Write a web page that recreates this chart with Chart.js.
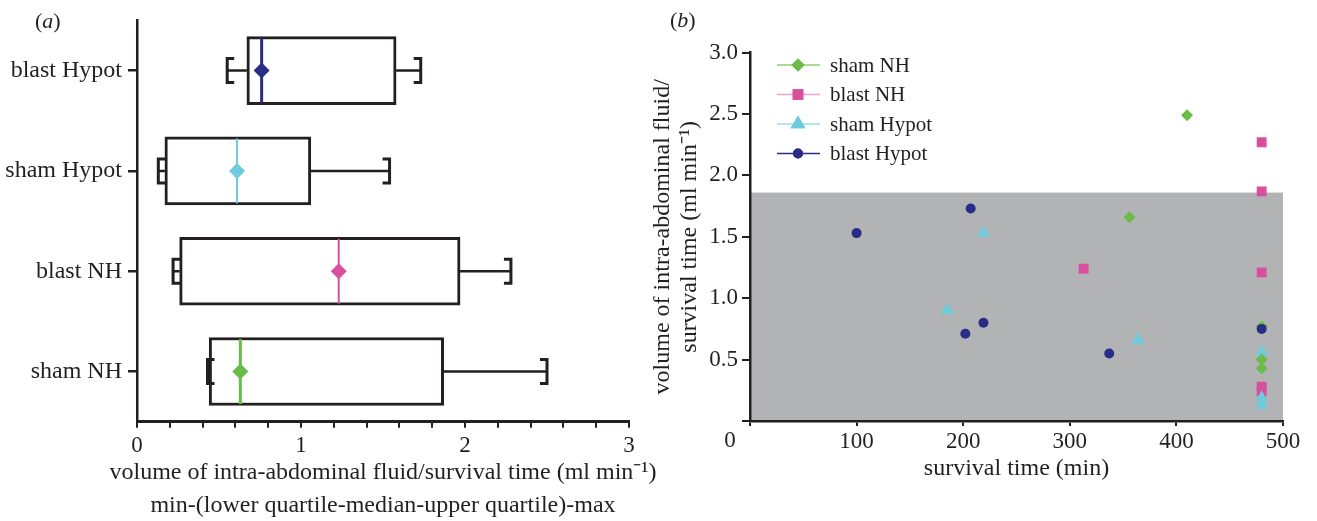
<!DOCTYPE html>
<html>
<head>
<meta charset="utf-8">
<script src="https://cdn.jsdelivr.net/npm/chart.js@4/dist/chart.umd.min.js"></script>
<style>
  html, body { margin: 0; padding: 0; background: #fff; overflow: hidden; }
  #wrap { position: relative; width: 1317px; height: 521px; }
  canvas { position: absolute; top: 0; }
  #boxCanvas { left: 0; }
  #scatterCanvas { left: 650px; }
  .panel { position: absolute; font: 22px 'Liberation Serif', 'Times New Roman', serif; color: #231f20; line-height: 24px; }
</style>
</head>
<body>
<div id="wrap">
  <canvas id="boxCanvas" width="680" height="521"></canvas>
  <canvas id="scatterCanvas" width="667" height="521"></canvas>
  <div class="panel" style="left:35px; top:9px;">(<i>a</i>)</div>
  <div class="panel" style="left:670px; top:8px;">(<i>b</i>)</div>
</div>
<script>
// ---- data: panel (a) box plot ----
const groups = ['blast Hypot', 'sham Hypot', 'blast NH', 'sham NH'];
const boxMin = [0.55, 0.13, 0.22, 0.43];
const boxQ1 = [0.67, 0.17, 0.26, 0.44];
const boxMedian = [0.76, 0.61, 1.23, 0.63];
const boxQ3 = [1.58, 1.06, 1.97, 1.87];
const boxMax = [1.73, 1.54, 2.28, 2.50];
const xTicksA = [0, 1, 2, 3];
const xTitleA = ['volume of intra-abdominal fluid/survival time (ml min\u207B\u00B9)',
                 'min-(lower quartile-median-upper quartile)-max'];

// ---- data: panel (b) scatter ----
const shamNHTime = [410, 356, 480, 480, 480];
const shamNHVol = [2.49, 1.66, 0.77, 0.50, 0.43];
const blastNHTime = [313, 480, 480, 480, 480, 480];
const blastNHVol = [1.24, 2.27, 1.87, 1.21, 0.28, 0.24];
const shamHypotTime = [185, 219, 364, 480, 480, 480];
const shamHypotVol = [0.90, 1.53, 0.66, 0.56, 0.19, 0.13];
const blastHypotTime = [100, 207, 202, 219, 337, 480];
const blastHypotVol = [1.53, 1.73, 0.71, 0.80, 0.55, 0.75];
const shadeMax = 1.86;   // upper edge of grey band
const xTicksB = [0, 100, 200, 300, 400, 500];
const yTicksB = [0, 0.5, 1.0, 1.5, 2.0, 2.5, 3.0];

// ---- styles ----
const ink = '#231f20';
const green = '#69bc45', pink = '#d8509d', cyan = '#6dcbdd', navy = '#2a2d86';
const groupColors = [navy, cyan, pink, green];
const medianWidths = [3, 2, 2, 3];
const serif = "'Liberation Serif', 'Times New Roman', serif";
Chart.defaults.font.family = serif;
Chart.defaults.color = ink;

function toPoints(xs, ys) {
    return xs.map(function(x, i) { return {x: x, y: ys[i]}; });
}

// whiskers + median lines drawn right after the boxes
const whiskerPlugin = {
    id: 'whiskers',
    afterDatasetDraw: function(chart, args) {
        if (args.index !== 1) return;
        const ctx = chart.ctx;
        const xs = chart.scales.x;
        const bars = args.meta.data;
        ctx.save();
        ctx.lineCap = 'butt';
        groups.forEach(function(g, i) {
            const p = bars[i].getProps(['y', 'height'], true);
            const y = p.y, half = p.height / 2;
            const xMin = xs.getPixelForValue(boxMin[i]);
            const xQ1 = xs.getPixelForValue(boxQ1[i]);
            const xQ3 = xs.getPixelForValue(boxQ3[i]);
            const xMax = xs.getPixelForValue(boxMax[i]);
            const cap = 12, serifLen = 7;
            ctx.strokeStyle = ink;
            // whisker lines
            ctx.lineWidth = 2.5;
            ctx.beginPath();
            ctx.moveTo(xMin, y); ctx.lineTo(xQ1, y);
            ctx.moveTo(xQ3, y); ctx.lineTo(xMax, y);
            ctx.stroke();
            // end brackets
            ctx.lineWidth = 3;
            ctx.beginPath();
            ctx.moveTo(xMin + serifLen, y - cap); ctx.lineTo(xMin, y - cap);
            ctx.lineTo(xMin, y + cap); ctx.lineTo(xMin + serifLen, y + cap);
            ctx.moveTo(xMax - serifLen, y - cap); ctx.lineTo(xMax, y - cap);
            ctx.lineTo(xMax, y + cap); ctx.lineTo(xMax - serifLen, y + cap);
            ctx.stroke();
            // median line
            const xMed = xs.getPixelForValue(boxMedian[i]);
            ctx.strokeStyle = groupColors[i];
            ctx.lineWidth = medianWidths[i];
            ctx.beginPath();
            ctx.moveTo(xMed, y - half + 1.5); ctx.lineTo(xMed, y + half - 1.5);
            ctx.stroke();
        });
        ctx.restore();
    },
    // x title drawn by hand so the long first line is not squeezed to the axis width
    afterDraw: function(chart) {
        const ctx = chart.ctx, area = chart.chartArea;
        const cx = (area.left + area.right) / 2;
        ctx.save();
        ctx.fillStyle = ink;
        ctx.font = '24px ' + serif;
        ctx.textAlign = 'center';
        ctx.textBaseline = 'middle';
        ctx.fillText(xTitleA[0], cx, area.bottom + 51);
        ctx.fillText(xTitleA[1], cx, area.bottom + 84);
        ctx.restore();
    }
};

new Chart(document.getElementById('boxCanvas'), {
    type: 'bar',
    data: {
        labels: groups,
        datasets: [
            {
                type: 'line',
                label: 'median',
                data: boxMedian,
                showLine: false,
                pointStyle: 'rectRot',
                pointRadius: 8,
                pointBackgroundColor: groupColors,
                pointBorderWidth: 0,
                order: 0
            },
            {
                label: 'box',
                data: groups.map(function(g, i) { return [boxQ1[i], boxQ3[i]]; }),
                backgroundColor: '#ffffff',
                borderColor: ink,
                borderWidth: 3,
                borderSkipped: false,
                barThickness: 68,
                order: 1
            }
        ]
    },
    options: {
        indexAxis: 'y',
        responsive: false,
        animation: false,
        layout: { padding: { top: 13.7, right: 51, left: 0, bottom: 0 } },
        plugins: { legend: { display: false }, tooltip: { enabled: false } },
        scales: {
            y: {
                type: 'category',
                offset: true,
                afterFit: function(s) { s.width = 137; },
                grid: { display: true, drawOnChartArea: false, offset: false, tickLength: 9, color: ink, lineWidth: 2.5 },
                border: { display: true, color: ink, width: 2.5 },
                ticks: { font: { size: 24 }, padding: 6, color: ink }
            },
            x: {
                type: 'linear',
                min: 0,
                max: 3,
                afterFit: function(s) { s.height = 99.3; },
                grid: { display: true, drawOnChartArea: false, tickLength: 6, color: ink, lineWidth: 2 },
                border: { display: true, color: ink, width: 3 },
                ticks: {
                    stepSize: 0.2,
                    autoSkip: false,
                    maxRotation: 0,
                    padding: 4,
                    font: { size: 23 },
                    color: ink,
                    callback: function(v) {
                        const r = Math.round(v);
                        return (Math.abs(v - r) < 1e-6 && xTicksA.indexOf(r) >= 0) ? String(r) : '';
                    }
                },
                title: { display: false }
            }
        }
    },
    plugins: [whiskerPlugin]
});

// ---- panel (b) ----
const seriesB = [
    { label: 'sham NH', pts: toPoints(shamNHTime, shamNHVol), color: green, line: '#8fd06f', style: 'rectRot', r: 6, lr: 6.5, order: 1 },
    { label: 'blast NH', pts: toPoints(blastNHTime, blastNHVol), color: pink, line: '#eda3ca', style: 'rect', r: 7, lr: 7.5, order: 3 },
    { label: 'sham Hypot', pts: toPoints(shamHypotTime, shamHypotVol), color: cyan, line: '#9bdbe8', style: 'triangle', r: 7.5, lr: 8.5, order: 2 },
    { label: 'blast Hypot', pts: toPoints(blastHypotTime, blastHypotVol), color: navy, line: navy, style: 'circle', r: 5, lr: 5, order: 0 }
];

const shadePlugin = {
    id: 'shade',
    beforeDraw: function(chart) {
        const ctx = chart.ctx, xs = chart.scales.x, ys = chart.scales.y;
        const x0 = xs.getPixelForValue(0), x1 = xs.getPixelForValue(500);
        const y0 = ys.getPixelForValue(0), y1 = ys.getPixelForValue(shadeMax);
        ctx.save();
        ctx.fillStyle = '#b2b3b5';
        ctx.fillRect(x0, y1, x1 - x0, y0 - y1);
        ctx.restore();
    }
};

const legendPlugin = {
    id: 'innerLegend',
    afterDraw: function(chart) {
        const ctx = chart.ctx, area = chart.chartArea;
        ctx.save();
        seriesB.forEach(function(s, i) {
            const y = area.top + 12.4 + i * 29.5;
            ctx.strokeStyle = s.line;
            ctx.lineWidth = 1.5;
            ctx.beginPath();
            ctx.moveTo(area.left + 27, y);
            ctx.lineTo(area.left + 70, y);
            ctx.stroke();
            ctx.fillStyle = s.color;
            Chart.helpers.drawPoint(ctx, { pointStyle: s.style, radius: s.lr, borderWidth: 0, rotation: 0 }, area.left + 48, y);
            ctx.fill();
            ctx.fillStyle = ink;
            ctx.font = '21px ' + serif;
            ctx.textAlign = 'left';
            ctx.textBaseline = 'middle';
            ctx.fillText(s.label, area.left + 80, y + 1);
        });
        // shared origin label
        const xs = chart.scales.x, ys = chart.scales.y;
        ctx.font = '23px ' + serif;
        ctx.textAlign = 'center';
        ctx.fillText('0', xs.getPixelForValue(0) - 20, ys.getPixelForValue(0) + 20);
        ctx.restore();
    }
};

new Chart(document.getElementById('scatterCanvas'), {
    type: 'scatter',
    data: {
        datasets: seriesB.map(function(s) {
            return {
                label: s.label,
                data: s.pts,
                pointStyle: s.style,
                pointRadius: s.r,
                backgroundColor: s.color,
                borderWidth: 0,
                order: s.order
            };
        })
    },
    options: {
        responsive: false,
        animation: false,
        layout: { padding: { top: 52.6, right: 34, left: 0, bottom: 0 } },
        plugins: { legend: { display: false }, tooltip: { enabled: false } },
        scales: {
            x: {
                type: 'linear',
                min: 0,
                max: 500,
                afterFit: function(s) { s.height = 100; },
                afterBuildTicks: function(s) { s.ticks = xTicksB.map(function(v) { return {value: v}; }); },
                grid: { display: true, drawOnChartArea: false, tickLength: 5, color: ink, lineWidth: 2 },
                border: { display: true, color: ink, width: 2.5 },
                ticks: {
                    maxRotation: 0,
                    padding: 2,
                    font: { size: 23 },
                    color: ink,
                    callback: function(v) { return v === 0 ? '' : String(v); }
                },
                title: {
                    display: true,
                    text: 'survival time (min)',
                    font: { size: 24, lineHeight: 1.2 },
                    color: ink,
                    padding: { top: 0, bottom: 38 }
                }
            },
            y: {
                type: 'linear',
                min: 0,
                max: 3,
                afterFit: function(s) { s.width = 100; },
                afterBuildTicks: function(s) { s.ticks = yTicksB.map(function(v) { return {value: v}; }); },
                grid: { display: true, drawOnChartArea: false, tickLength: 8, color: ink, lineWidth: 2 },
                border: { display: true, color: ink, width: 2.5 },
                ticks: {
                    padding: 4,
                    font: { size: 23 },
                    color: ink,
                    callback: function(v) { return v === 0 ? '' : v.toFixed(1); }
                },
                title: {
                    display: true,
                    text: ['volume of intra-abdominal fluid/', 'survival time (ml min\u207B\u00B9)'],
                    font: { size: 24, lineHeight: 1.1 },
                    color: ink,
                    padding: { top: 0, bottom: 0 }
                }
            }
        }
    },
    plugins: [shadePlugin, legendPlugin]
});
</script>
</body>
</html>
